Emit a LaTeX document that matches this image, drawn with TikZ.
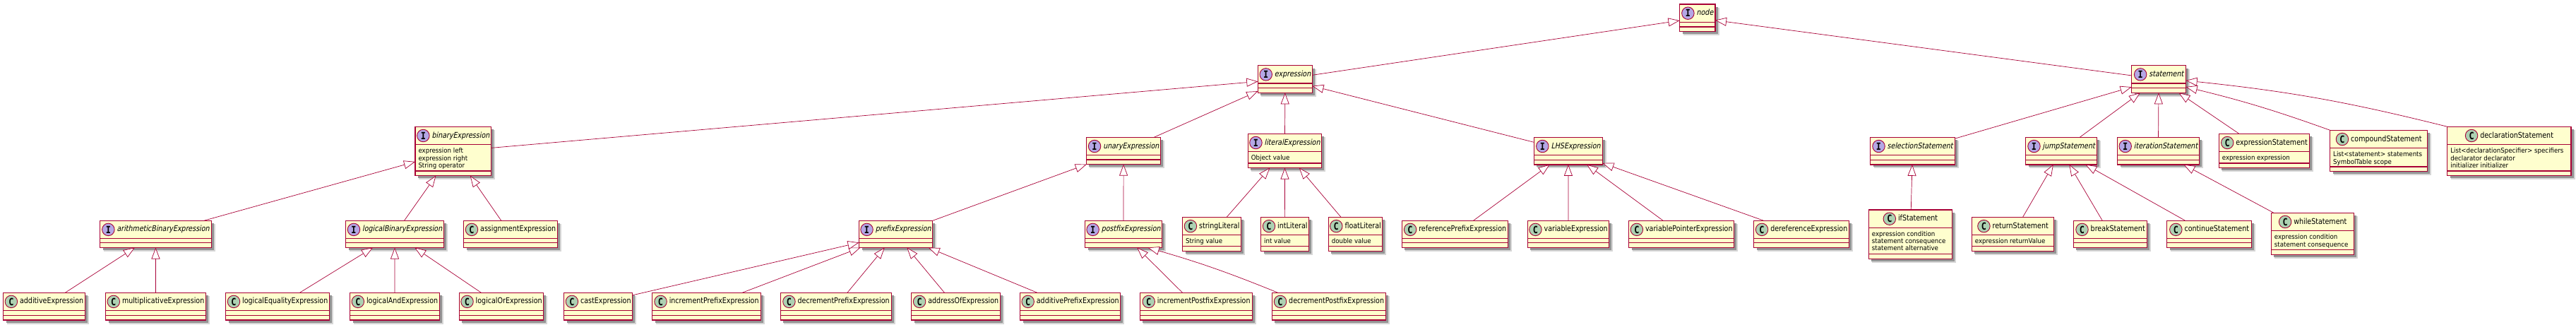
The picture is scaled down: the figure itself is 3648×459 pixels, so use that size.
\documentclass[tikz,border=0pt]{standalone}
\usepackage{fontspec}
\setmainfont{DejaVu Sans}[FakeStretch=0.85]
\newfontfamily\slantfont{DejaVu Sans}[FakeStretch=0.85, FakeSlant=0.2]
\newfontfamily\memberfont{DejaVu Sans}[FakeStretch=0.92]
\newfontfamily\letterfont{DejaVu Sans Mono}[FakeStretch=0.85]
\usetikzlibrary{positioning,arrows.meta}
\definecolor{umlline}{HTML}{A80036}
\definecolor{umlfill}{HTML}{FEFECE}
\definecolor{ifill}{HTML}{B4A7E5}
\definecolor{cfill}{HTML}{ADD1B2}
\tikzset{
  umlbox/.style={draw=umlline, fill=umlfill, line width=1.2pt, inner sep=0pt, outer sep=0pt, anchor=north west},
  sepline/.style={draw=umlline, line width=1.2pt},
  Ctitle/.style={inner sep=0pt, font=\fontsize{11.2}{13}\selectfont, text height=8.5pt, text depth=2.5pt},
  Ititle/.style={Ctitle, font=\fontsize{11.2}{13}\selectfont\slantfont},
  Ccircle/.style={circle, draw=umlline, fill=cfill, line width=0.9pt, minimum size=17.5pt, inner sep=0pt, font=\fontsize{14}{14}\selectfont\letterfont\bfseries},
  Icircle/.style={Ccircle, fill=ifill},
  members/.style={inner sep=0pt, anchor=north west, align=left, font=\fontsize{9.4}{10.2}\selectfont\memberfont},
  inherit/.style={draw=umlline, line width=0.7pt, -{Triangle[open, fill=white, length=16pt, width=12pt, line width=0.7pt]}}
}
% kind, name, left, top, right, bottom, members
\newcommand{\classbox}[7]{
  \fill[black!16] (#3+5,#4+5) rectangle (#5+5.5,#6+5.5);
  \fill[black!42] (#3+4,#4+4) rectangle (#5+3.5,#6+3.5);
  \node[umlbox, minimum width=#5pt-#3pt, minimum height=#6pt-#4pt] (#2) at (#3,#4) {};
  \draw[sepline] ([yshift=-25.3pt]#2.north west) -- ([yshift=-25.3pt]#2.north east);
  \draw[sepline] ([yshift=6.7pt]#2.south west) -- ([yshift=6.7pt]#2.south east);
  \node[#1title] (#2-title) at ([xshift=10.7pt, yshift=-12.7pt]#2.north) {#2};
  \node[#1circle, left=2.8pt of #2-title] (#2-circle) {#1};
  \if\relax\detokenize{#7}\relax\else
    \node[members] (#2-members) at ([xshift=4.3pt, yshift=-30.2pt]#2.north west) {#7};
  \fi
}

\begin{document}
\begin{tikzpicture}[x=1pt, y=-1pt]
  \useasboundingbox (0,0) rectangle (3648,459);
  % top levels
  \classbox{I}{node}{2378.5}{6}{2429}{44.7}{}
  \classbox{I}{expression}{1781.3}{92.7}{1858.5}{131.3}{}
  \classbox{I}{statement}{3018.6}{92.7}{3095.6}{131.3}{}
  % second level
  \classbox{I}{binaryExpression}{588}{179.3}{695.5}{248.7}{expression left\\expression right\\String operator}
  \classbox{I}{unaryExpression}{1538.4}{194.3}{1643.8}{232.6}{}
  \classbox{I}{literalExpression}{1767.4}{189.3}{1871.4}{237.6}{Object value}
  \classbox{I}{LHSExpression}{2172.4}{194.3}{2269.4}{232.9}{}
  \classbox{I}{selectionStatement}{2648.5}{194.3}{2768.4}{232.9}{}
  \classbox{I}{jumpStatement}{2868.7}{194.3}{2969.3}{232.9}{}
  \classbox{I}{iterationStatement}{2998.5}{194.3}{3114.2}{232.9}{}
  \classbox{C}{expressionStatement}{3142.3}{189.3}{3270.5}{237.6}{expression expression}
  \classbox{C}{compoundStatement}{3299.7}{184.3}{3437.6}{242.6}{List<statement> statements\\SymbolTable scope}
  \classbox{C}{declarationStatement}{3465.8}{179.3}{3641}{248.7}{List<declarationSpecifier> specifiers\\declarator declarator\\initializer initializer}
  % third level
  \classbox{I}{arithmeticBinaryExpression}{141.6}{312.2}{299.3}{350.5}{}
  \classbox{I}{logicalBinaryExpression}{489.5}{312.2}{628.6}{350.5}{}
  \classbox{C}{assignmentExpression}{656.7}{312.2}{789.3}{350.5}{}
  \classbox{I}{prefixExpression}{1216.5}{312.2}{1320.5}{350.5}{}
  \classbox{I}{postfixExpression}{1536.6}{312.2}{1645.5}{350.5}{}
  \classbox{C}{stringLiteral}{1674.5}{307.4}{1757.6}{355.5}{String value}
  \classbox{C}{intLiteral}{1785.7}{307.4}{1853.6}{355.5}{int value}
  \classbox{C}{floatLiteral}{1881.3}{307.4}{1957.6}{355.5}{double value}
  \classbox{C}{referencePrefixExpression}{1985.3}{312.2}{2135.7}{350.5}{}
  \classbox{C}{variableExpression}{2163.3}{312.2}{2278.6}{350.5}{}
  \classbox{C}{variablePointerExpression}{2306.6}{312.2}{2455.6}{350.5}{}
  \classbox{C}{dereferenceExpression}{2483.7}{312.2}{2618.4}{350.5}{}
  \classbox{C}{ifStatement}{2646.4}{297}{2764.3}{366.4}{expression condition\\statement consequence\\statement alternative}
  \classbox{C}{returnStatement}{2792.3}{307.4}{2908.7}{355.5}{expression returnValue}
  \classbox{C}{breakStatement}{2936.3}{312.2}{3040.7}{350.5}{}
  \classbox{C}{continueStatement}{3068.8}{312.2}{3188.3}{350.5}{}
  \classbox{C}{whileStatement}{3216.4}{301.3}{3333.8}{360.4}{expression condition\\statement consequence}
  % bottom level
  \classbox{C}{additiveExpression}{4.7}{414.2}{120.2}{453}{}
  \classbox{C}{multiplicativeExpression}{149.5}{414.2}{291.4}{453}{}
  \classbox{C}{logicalEqualityExpression}{319.5}{414.2}{466.6}{453}{}
  \classbox{C}{logicalAndExpression}{495.5}{414.2}{622.3}{453}{}
  \classbox{C}{logicalOrExpression}{650.4}{414.2}{769.6}{453}{}
  \classbox{C}{castExpression}{798.7}{414.2}{895.5}{453}{}
  \classbox{C}{incrementPrefixExpression}{923.7}{414.2}{1077.2}{453}{}
  \classbox{C}{decrementPrefixExpression}{1105.4}{414.2}{1262.5}{453}{}
  \classbox{C}{addressOfExpression}{1290.6}{414.2}{1416.5}{453}{}
  \classbox{C}{additivePrefixExpression}{1444.6}{414.2}{1586.6}{453}{}
  \classbox{C}{incrementPostfixExpression}{1614.3}{414.2}{1773.7}{453}{}
  \classbox{C}{decrementPostfixExpression}{1801.3}{414.2}{1962.5}{453}{}
  % inheritance
  \foreach \child/\parent in {expression/node, statement/node,
      binaryExpression/expression, unaryExpression/expression, literalExpression/expression, LHSExpression/expression,
      selectionStatement/statement, jumpStatement/statement, iterationStatement/statement, expressionStatement/statement,
      arithmeticBinaryExpression/binaryExpression, logicalBinaryExpression/binaryExpression, assignmentExpression/binaryExpression,
      additiveExpression/arithmeticBinaryExpression, multiplicativeExpression/arithmeticBinaryExpression,
      logicalEqualityExpression/logicalBinaryExpression, logicalAndExpression/logicalBinaryExpression, logicalOrExpression/logicalBinaryExpression,
      prefixExpression/unaryExpression, postfixExpression/unaryExpression,
      incrementPrefixExpression/prefixExpression, decrementPrefixExpression/prefixExpression, addressOfExpression/prefixExpression, additivePrefixExpression/prefixExpression,
      incrementPostfixExpression/postfixExpression,
      stringLiteral/literalExpression, intLiteral/literalExpression, floatLiteral/literalExpression,
      referencePrefixExpression/LHSExpression, variableExpression/LHSExpression, variablePointerExpression/LHSExpression, dereferenceExpression/LHSExpression,
      ifStatement/selectionStatement, returnStatement/jumpStatement, breakStatement/jumpStatement, continueStatement/jumpStatement, whileStatement/iterationStatement}{
    \draw[inherit] (\child) -- (\parent);
  }
  % these do not aim at the centres
  \draw[inherit] (castExpression.18.5) -- (prefixExpression.193.4);
  \draw[inherit] (decrementPostfixExpression.165.2) to[bend right=3] (postfixExpression.-29);
  \draw[inherit] (compoundStatement.north west) to[bend right=3] (statement.-16.3);
  \draw[inherit] (declarationStatement.north west) to[bend right=4] (statement.-3);
\end{tikzpicture}
\end{document}
